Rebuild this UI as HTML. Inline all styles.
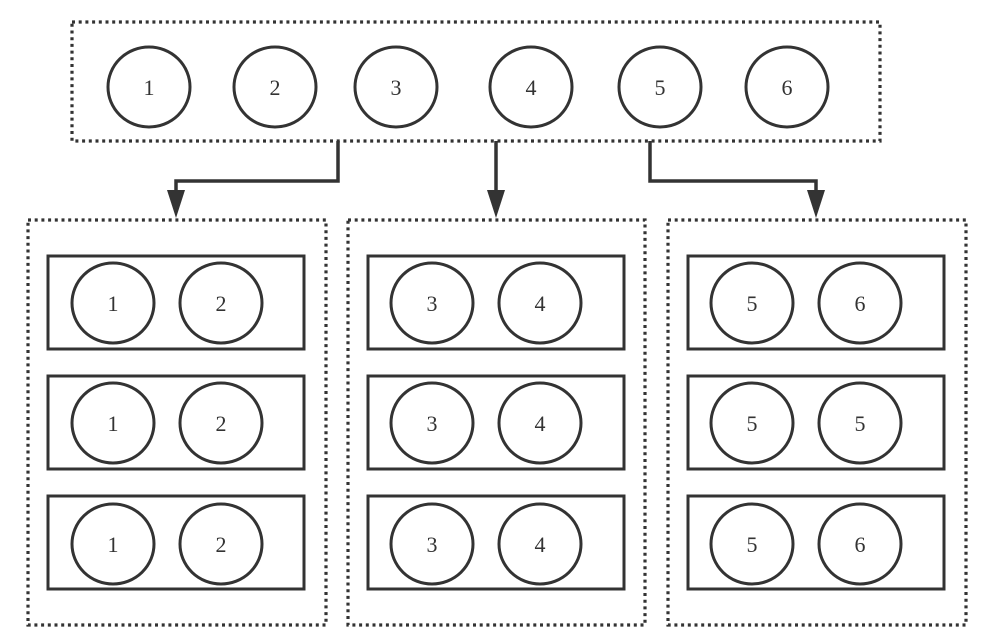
<!DOCTYPE html>
<html><head><style>body{margin:0;background:#fff}svg{display:block}</style></head><body>
<svg width="992" height="636" viewBox="0 0 992 636" xmlns="http://www.w3.org/2000/svg" font-family="Liberation Serif, serif" font-size="22" fill="none">
<g stroke="#333" stroke-width="3.2" stroke-dasharray="3 3.7">
<rect x="72" y="22" width="808" height="119"/>
<rect x="28" y="220" width="298" height="405"/>
<rect x="348" y="220" width="297" height="405"/>
<rect x="668" y="220" width="298" height="405"/>
</g>
<g stroke="#333" stroke-width="3.5">
<path d="M338 141V181H176V195"/>
<path d="M496 141V195"/>
<path d="M650 141V181H816V195"/>
</g>
<g fill="#333">
<path d="M167 190H185L176 218Z"/>
<path d="M487 190H505L496 218Z"/>
<path d="M807 190H825L816 218Z"/>
</g>
<g stroke="#333" stroke-width="3">
<ellipse cx="149" cy="87" rx="41" ry="40"/><ellipse cx="275" cy="87" rx="41" ry="40"/><ellipse cx="396" cy="87" rx="41" ry="40"/>
<ellipse cx="531" cy="87" rx="41" ry="40"/><ellipse cx="660" cy="87" rx="41" ry="40"/><ellipse cx="787" cy="87" rx="41" ry="40"/>
<rect x="48" y="256" width="256" height="93"/><rect x="48" y="376" width="256" height="93"/><rect x="48" y="496" width="256" height="93"/>
<rect x="368" y="256" width="256" height="93"/><rect x="368" y="376" width="256" height="93"/><rect x="368" y="496" width="256" height="93"/>
<rect x="688" y="256" width="256" height="93"/><rect x="688" y="376" width="256" height="93"/><rect x="688" y="496" width="256" height="93"/>
<ellipse cx="113" cy="303" rx="41" ry="40"/><ellipse cx="221" cy="303" rx="41" ry="40"/>
<ellipse cx="113" cy="423" rx="41" ry="40"/><ellipse cx="221" cy="423" rx="41" ry="40"/>
<ellipse cx="113" cy="544" rx="41" ry="40"/><ellipse cx="221" cy="544" rx="41" ry="40"/>
<ellipse cx="432" cy="303" rx="41" ry="40"/><ellipse cx="540" cy="303" rx="41" ry="40"/>
<ellipse cx="432" cy="423" rx="41" ry="40"/><ellipse cx="540" cy="423" rx="41" ry="40"/>
<ellipse cx="432" cy="544" rx="41" ry="40"/><ellipse cx="540" cy="544" rx="41" ry="40"/>
<ellipse cx="752" cy="303" rx="41" ry="40"/><ellipse cx="860" cy="303" rx="41" ry="40"/>
<ellipse cx="752" cy="423" rx="41" ry="40"/><ellipse cx="860" cy="423" rx="41" ry="40"/>
<ellipse cx="752" cy="544" rx="41" ry="40"/><ellipse cx="860" cy="544" rx="41" ry="40"/>
</g>
<g fill="#333" text-anchor="middle">
<text x="149" y="95">1</text><text x="275" y="95">2</text><text x="396" y="95">3</text><text x="531" y="95">4</text><text x="660" y="95">5</text><text x="787" y="95">6</text>
<text x="113" y="311">1</text><text x="221" y="311">2</text><text x="113" y="431">1</text><text x="221" y="431">2</text><text x="113" y="552">1</text><text x="221" y="552">2</text>
<text x="432" y="311">3</text><text x="540" y="311">4</text><text x="432" y="431">3</text><text x="540" y="431">4</text><text x="432" y="552">3</text><text x="540" y="552">4</text>
<text x="752" y="311">5</text><text x="860" y="311">6</text><text x="752" y="431">5</text><text x="860" y="431">5</text><text x="752" y="552">5</text><text x="860" y="552">6</text>
</g>
</svg>
</body></html>
